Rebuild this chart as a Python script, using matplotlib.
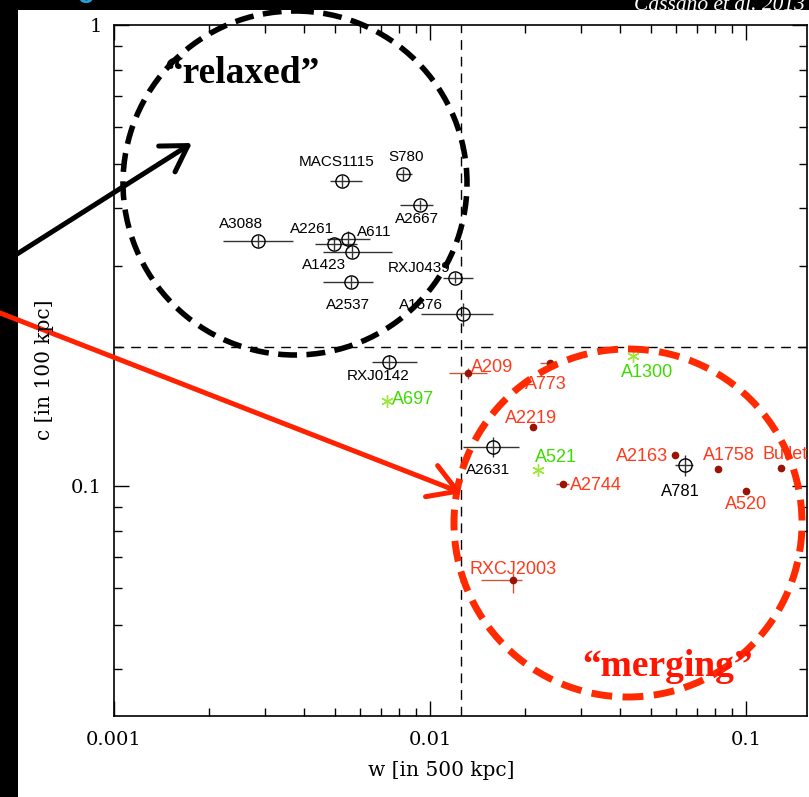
import numpy as np
import matplotlib.pyplot as plt
from matplotlib.patches import Circle, FancyArrowPatch, Rectangle
from matplotlib.ticker import LogLocator, NullFormatter

# relaxed clusters (open circles)
names_blk = ['MACS1115', 'S780', 'A2667', 'A3088', 'A2261', 'A611', 'A1423',
             'RXJ0439', 'A2537', 'A1576', 'RXJ0142', 'A2631', 'A781']
w_blk = [0.00527, 0.00821, 0.0093, 0.00286, 0.00497, 0.0055, 0.00566,
         0.0120, 0.00562, 0.0127, 0.00742, 0.0158, 0.0641]
c_blk = [0.459, 0.475, 0.407, 0.340, 0.335, 0.343, 0.322,
         0.283, 0.277, 0.236, 0.186, 0.1215, 0.111]
wlo_blk = [0.00044, 0.00036, 0.00126, 0.00065, 0.00064, 0.00078, 0.00108,
           0.0010, 0.00104, 0.0033, 0.00087, 0.0031, 0.0045]
whi_blk = [0.00081, 0.00054, 0.00092, 0.00083, 0.00091, 0.00096, 0.00192,
           0.0017, 0.00098, 0.0031, 0.00168, 0.0033, 0.0038]
cerr_blk = [0.013, 0.013, 0.011, 0.0095, 0.0094, 0.014, 0.009,
            0.008, 0.008, 0.014, 0.0066, 0.0062, 0.0058]

# merging clusters (filled dots)
names_red = ['A209', 'A773', 'A2219', 'A2744', 'A2163', 'A1758', 'Bullet',
             'A520', 'RXCJ2003']
w_red = [0.0132, 0.0240, 0.0212, 0.0264, 0.0596, 0.0815, 0.129, 0.100, 0.0183]
c_red = [0.176, 0.185, 0.134, 0.101, 0.1168, 0.1088, 0.1094, 0.0975, 0.0625]
wlo_red = [0.0017, 0.0017, 0.0, 0.0013, 0.0, 0.0, 0.0, 0.0, 0.0038]
whi_red = [0.0020, 0.0012, 0.0, 0.0012, 0.0, 0.0, 0.0, 0.0, 0.0013]
clo_red = [0.005, 0.0, 0.0, 0.0, 0.0, 0.0, 0.0, 0.0, 0.0038]
chi_red = [0.004, 0.0, 0.0, 0.0, 0.0, 0.0, 0.0, 0.0, 0.0023]

# other clusters (stars)
names_grn = ['A697', 'A521', 'A1300']
w_grn = [0.00731, 0.0220, 0.0439]
c_grn = [0.153, 0.1083, 0.191]

w_cut = 0.0125
c_cut = 0.2

# label offsets in pixels (dx right, dy down)
lab_off = {
    'MACS1115': (-5, -19), 'S780': (3, -17), 'A2667': (-3, 14),
    'A3088': (-17, -17), 'A2261': (-22, -15), 'A611': (26, -7),
    'A1423': (-28, 13), 'RXJ0439': (-36, -10), 'A2537': (-3, 23),
    'A1576': (-42, -9), 'RXJ0142': (-11, 14), 'A2631': (-5, 23),
    'A781': (-5, 26),
    'A209': (24, -5), 'A773': (-4, 22), 'A2219': (-2, -9), 'A2744': (33, 2),
    'A2163': (-33, 2), 'A1758': (11, -14), 'Bullet': (4, -13), 'A520': (0, 13),
    'RXCJ2003': (0, -11),
    'A697': (26, -1), 'A521': (18, -13), 'A1300': (14, 16),
}

W, H = 809, 797
fig = plt.figure(figsize=(W / 100, H / 100), dpi=100, facecolor='black')
fig.patches.append(Rectangle((18 / W, 0), 1, (H - 10) / H, transform=fig.transFigure,
                             facecolor='white', edgecolor='none', zorder=-5))

ax = fig.add_axes([114 / W, 81 / H, 693 / W, 691 / H], zorder=2)
ax.set_xscale('log')
ax.set_yscale('log')
ax.set_xlim(0.001, 0.156)
ax.set_ylim(10 ** -1.499, 1)

ax.axvline(w_cut, color='black', lw=1, ls=(0, (7, 5)), zorder=1)
ax.axhline(c_cut, color='black', lw=1, ls=(0, (7, 5)), zorder=1)

ax.errorbar(w_blk, c_blk, xerr=[wlo_blk, whi_blk], yerr=cerr_blk, fmt='o',
            mfc='none', mec='black', mew=1, ms=9.5, ecolor='#333333',
            elinewidth=1, capsize=0, zorder=3)
ax.errorbar(w_red, c_red, xerr=[wlo_red, whi_red], yerr=[clo_red, chi_red],
            fmt='o', mfc='#9c1204', mec='#9c1204', ms=4.5, ecolor='#c8583a',
            elinewidth=1, capsize=0, zorder=3)
ax.plot(w_grn, c_grn, ls='none', marker=(6, 2, 0), ms=9, mew=1,
        color='#9fe63a', zorder=3)

groups = [(names_blk, w_blk, c_blk, 'black', 11),
          (names_red, w_red, c_red, '#ff3a1c', 13),
          (names_grn, w_grn, c_grn, '#3ddc00', 13)]
for names, ws, cs, col, fs in groups:
    for n, xw, yc in zip(names, ws, cs):
        dx, dy = lab_off[n]
        size = 12 if n == 'A781' else fs
        ax.annotate(n, (xw, yc), xytext=(dx * 0.72, -dy * 0.72),
                    textcoords='offset points', ha='center', va='center',
                    fontsize=size, color=col, family='Liberation Sans',
                    annotation_clip=False, zorder=4)

ax.set_xticks([0.001, 0.01, 0.1], ['0.001', '0.01', '0.1'])
ax.set_yticks([0.1, 1], ['0.1', '1'])
ax.xaxis.set_minor_locator(LogLocator(subs=np.arange(2, 10)))
ax.yaxis.set_minor_locator(LogLocator(subs=np.arange(2, 10)))
ax.xaxis.set_minor_formatter(NullFormatter())
ax.yaxis.set_minor_formatter(NullFormatter())
ax.tick_params(which='both', direction='in', top=True, right=True, width=1)
ax.tick_params(which='major', length=11)
ax.tick_params(which='minor', length=6)
ax.tick_params(axis='x', pad=11)
ax.tick_params(axis='y', pad=9)
for lab in ax.get_xticklabels() + ax.get_yticklabels():
    lab.set_family('DejaVu Serif')
    lab.set_fontsize(14)
for s in ax.spines.values():
    s.set_linewidth(1.2)

# overlay in pixel coordinates for the annotations
ov = fig.add_axes([0, 0, 1, 1], zorder=5)
ov.set_xlim(0, W)
ov.set_ylim(H, 0)
ov.axis('off')
ov.patch.set_alpha(0)

ov.text(441, 770, 'w [in 500 kpc]', ha='center', va='center',
        family='DejaVu Serif', fontsize=14.5)
ov.text(45, 370, 'c [in 100 kpc]', ha='center', va='center', rotation=90,
        family='DejaVu Serif', fontsize=14.5)

ov.add_patch(Circle((295, 183), 172, fill=False, ec='black', lw=4,
                    ls=(0, (3.4, 1.7))))
ov.add_patch(Circle((628, 523), 174, fill=False, ec='#ff2a00', lw=5,
                    ls=(0, (3.0, 1.5))))

ov.add_patch(FancyArrowPatch((-5, 268), (192, 143), color='black', lw=3.6,
                             arrowstyle='->,head_length=0.9,head_width=0.55',
                             mutation_scale=20, shrinkA=0, shrinkB=0))
ov.add_patch(FancyArrowPatch((-5, 311), (462, 493), color='#ff2200', lw=3.6,
                             arrowstyle='->,head_length=1.0,head_width=0.6',
                             mutation_scale=20, shrinkA=0, shrinkB=0))

ov.text(242, 83, '\u201crelaxed\u201d', ha='center', va='baseline',
        family='Liberation Serif', weight='bold', fontsize=27, color='black')
ov.text(668, 676, '\u201cmerging\u201d', ha='center', va='baseline',
        family='Liberation Serif', weight='bold', fontsize=27, color='#ff1500')

ov.text(805, 10, 'Cassano et al. 2013', ha='right', va='baseline',
        family='Liberation Serif', style='italic', fontsize=15.5, color='white')
ov.text(86, -3, 'g', ha='center', va='baseline', family='Liberation Sans',
        weight='bold', fontsize=20, color='#2aa0dc')

fig.savefig('out.png', dpi=100, facecolor='black')
